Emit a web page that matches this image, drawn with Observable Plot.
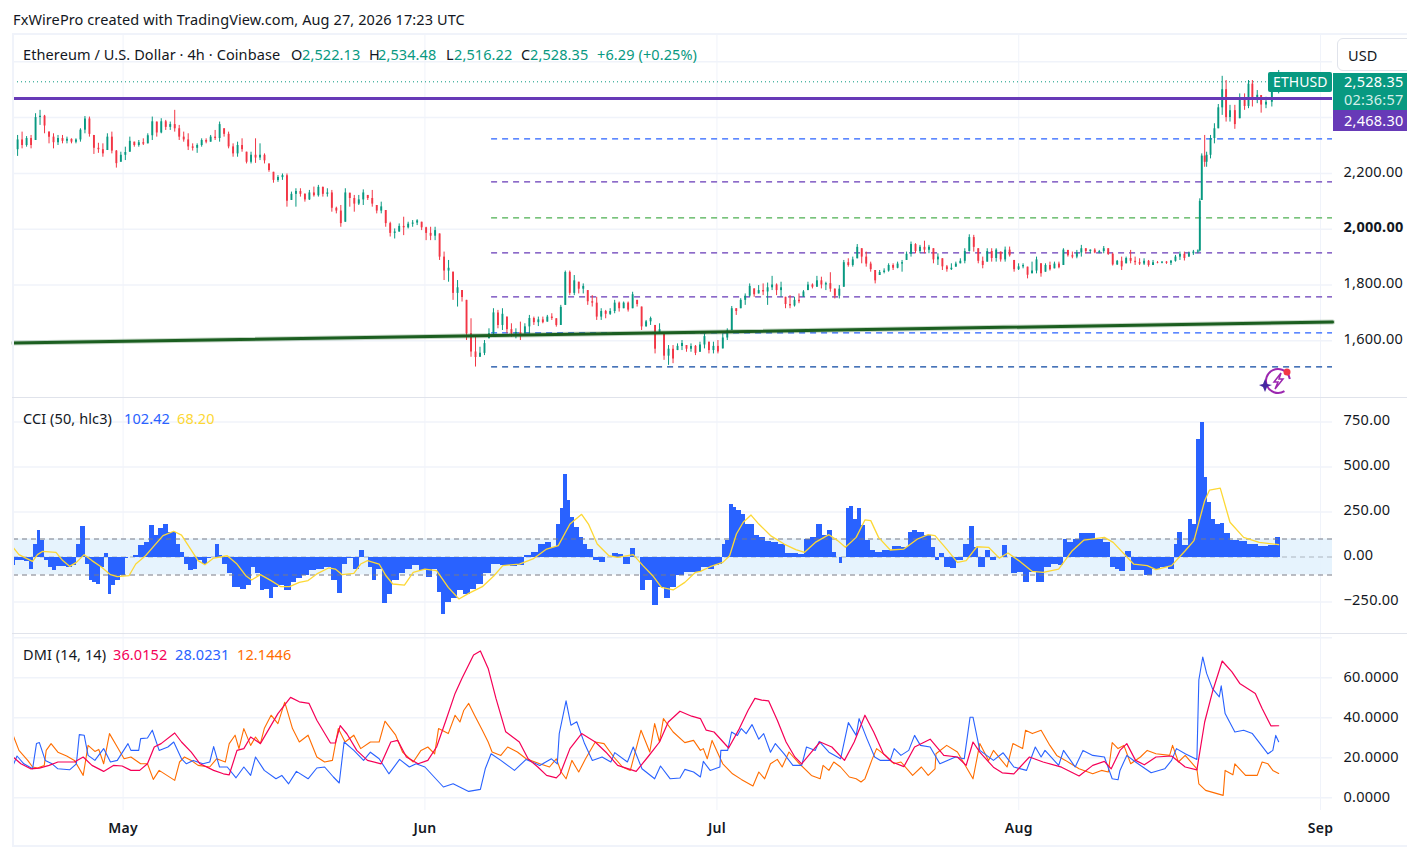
<!DOCTYPE html>
<html>
<head>
<meta charset="utf-8">
<script src="https://cdn.jsdelivr.net/npm/d3@7"></script>
<script src="https://cdn.jsdelivr.net/npm/@observablehq/plot@0.6"></script>
<style>
html,body{margin:0;padding:0;background:#fff;overflow:hidden}
#stage{position:relative;width:1407px;height:851px;overflow:hidden;font-family:"Noto Sans",sans-serif;color:#131722}
#stage svg.plot,#stage>svg{position:absolute;left:0;background:transparent}
.t{position:absolute;white-space:nowrap;transform:translateY(-50%);font-size:14.5px;letter-spacing:.1px;line-height:18px}
.b{position:absolute}
</style>
</head>
<body>
<div id="stage"></div>
<script>
// Price candles (first part: Apr 20 to Jul 1)
const highsA=[2294,2336,2348,2332,2336,2414,2426,2408,2348,2342,2336,2336,2330,2324,2324,2360,2404,2402,2336,2308,2306,2342,2348,2282,2276,2294,2330,2312,2318,2324,2342,2402,2384,2396,2390,2384,2426,2372,2348,2342,2306,2306,2324,2324,2336,2354,2384,2360,2348,2306,2312,2324,2276,2276,2324,2306,2270,2234,2204,2192,2198,2198,2133,2145,2145,2127,2139,2151,2157,2151,2145,2139,2079,2085,2145,2129,2121,2121,2141,2121,2139,2085,2097,2067,2025,2001,2019,2043,2025,2031,2034,2025,2007,2007,2007,1983,1918,1888,1846,1816,1780,1745,1679,1613,1577,1601,1643,1715,1709,1715,1685,1661,1643,1667,1661,1691,1685,1685,1685,1691,1697,1679,1727,1850,1850,1834,1810,1804,1780,1762,1756,1715,1709,1715,1745,1739,1739,1739,1774,1745,1721,1673,1685,1655,1661,1625,1583,1583,1589,1601,1583,1589,1583,1595,1625,1595,1595,1601];
const lowsA=[2258,2261,2288,2294,2288,2318,2372,2342,2306,2288,2300,2306,2306,2306,2306,2312,2342,2330,2268,2272,2258,2282,2270,2219,2240,2246,2276,2294,2294,2300,2306,2318,2330,2342,2354,2354,2348,2318,2312,2282,2280,2272,2294,2306,2312,2318,2312,2330,2288,2258,2258,2276,2234,2234,2236,2246,2234,2204,2165,2168,2175,2079,2103,2079,2115,2097,2103,2115,2115,2115,2115,2061,2055,2007,2025,2079,2061,2085,2085,2103,2079,2055,2055,2007,1972,1965,1989,1977,2001,2007,2013,1995,1959,1959,1959,1888,1816,1810,1745,1721,1739,1601,1541,1506,1541,1547,1607,1613,1643,1637,1625,1613,1607,1601,1625,1625,1655,1651,1661,1667,1673,1649,1655,1727,1762,1762,1768,1768,1727,1721,1673,1673,1679,1691,1697,1703,1715,1703,1715,1721,1637,1649,1655,1553,1625,1530,1512,1518,1565,1565,1559,1559,1547,1559,1571,1553,1553,1553];
const closesA=[2285,2320,2300,2325,2300,2400,2405,2370,2330,2310,2325,2315,2322,2312,2320,2355,2395,2340,2290,2285,2270,2330,2280,2235,2265,2275,2315,2300,2310,2305,2335,2385,2345,2385,2365,2375,2360,2330,2320,2295,2290,2300,2318,2312,2330,2325,2375,2340,2295,2270,2300,2285,2240,2265,2255,2265,2245,2210,2175,2185,2192,2100,2125,2135,2125,2105,2130,2120,2150,2125,2130,2075,2065,2020,2130,2110,2090,2105,2130,2110,2090,2065,2080,2020,1985,1990,2010,2005,2018,2022,2030,2005,1985,1975,1995,1900,1850,1860,1770,1790,1755,1625,1560,1540,1555,1590,1625,1700,1655,1695,1640,1625,1630,1615,1650,1680,1665,1675,1665,1685,1680,1655,1720,1845,1770,1815,1785,1795,1740,1735,1685,1705,1695,1705,1735,1715,1735,1710,1765,1730,1650,1668,1680,1570,1640,1545,1570,1535,1580,1590,1570,1580,1555,1585,1615,1565,1580,1560];
// Price candles (second part: Jul 1 to the jump of Aug 18)
const highsB=[1625,1643,1723,1715,1751,1768,1804,1786,1798,1804,1807,1831,1804,1810,1756,1762,1756,1768,1780,1810,1804,1831,1828,1810,1844,1786,1798,1888,1894,1900,1945,1930,1918,1882,1852,1852,1858,1876,1876,1882,1888,1918,1954,1948,1942,1957,1942,1930,1912,1894,1870,1876,1882,1894,1930,1980,1978,1930,1900,1930,1930,1930,1918,1936,1936,1888,1876,1876,1864,1882,1900,1876,1876,1882,1882,1882,1930,1924,1918,1924,1942,1930,1926,1930,1924,1938,1930,1914,1888,1900,1900,1924,1900,1894,1894,1888,1888,1884,1884,1884,1888,1906,1918,1918,1918,1924,1926];
const lowsB=[1571,1601,1637,1691,1715,1727,1756,1756,1768,1762,1727,1780,1762,1756,1715,1715,1721,1733,1756,1780,1786,1792,1786,1780,1774,1750,1750,1792,1864,1864,1894,1876,1864,1846,1804,1834,1840,1846,1852,1858,1846,1888,1900,1912,1912,1912,1912,1876,1870,1852,1846,1852,1864,1876,1876,1918,1918,1876,1858,1882,1882,1882,1882,1882,1900,1846,1852,1858,1822,1840,1840,1828,1846,1850,1858,1858,1870,1900,1894,1894,1900,1912,1912,1912,1912,1912,1906,1868,1870,1852,1876,1876,1870,1870,1870,1864,1870,1876,1876,1874,1870,1882,1888,1886,1900,1906,1912];
const closesB=[1610,1635,1715,1705,1745,1760,1795,1765,1780,1775,1790,1800,1780,1790,1730,1725,1745,1740,1775,1800,1792,1815,1800,1805,1785,1760,1785,1880,1870,1890,1935,1900,1875,1855,1815,1845,1850,1870,1860,1875,1880,1910,1945,1920,1935,1925,1935,1890,1900,1865,1855,1860,1875,1885,1920,1970,1935,1885,1870,1920,1895,1925,1890,1925,1905,1855,1865,1870,1835,1850,1890,1840,1870,1855,1875,1862,1925,1905,1900,1915,1930,1920,1925,1915,1920,1930,1910,1872,1885,1865,1895,1885,1880,1875,1885,1870,1880,1878,1882,1878,1885,1900,1910,1895,1912,1918,1922];
// Price candles (last part: from the jump to Aug 27), each with its own day from May 1
const highsC=[2109,2270,2336,2276,2336,2378,2447,2548,2533,2444,2444,2485,2485,2533,2533,2497,2479,2473,2497,2569];
const lowsC=[1918,2103,2222,2222,2252,2306,2360,2408,2384,2384,2358,2396,2426,2432,2438,2450,2416,2432,2438,2485];
const closesC=[2100,2262,2240,2265,2325,2360,2435,2500,2400,2425,2375,2470,2440,2520,2470,2480,2445,2455,2490,2528.35];
const daysC=[110.6,110.8,111.1,111.3,111.7,112.1,112.5,112.9,113.3,113.7,114.2,114.7,115.2,115.6,116,116.5,116.9,117.4,118,118.7];
const firstOpen=2265;

// Horizontal levels and trend line
const lastClose=2528.35, purpleLevel=2468.30;
const levelPrices=[2324,2169.9,2040.9,1915.4,1757.7,1628.7,1506.8];
const levelColors=["#2962ff","#673ab7","#4caf50","#673ab7","#673ab7","#2962ff","#0d47a1"];
const levelStartDay=37.85;
const trendDays=[-11.26,124.23], trendPrices=[1592,1667];

// CCI histogram (days counted from May 1)
const cciDays=[-11.3,-10.8,-10.3,-9.9,-9.4,-9,-8.6,-8.3,-7.9,-7.5,-7,-6.6,-6.1,-5.5,-5,-4.6,-4.1,-3.7,-3.3,-2.9,-2.5,-2.1,-1.7,-1.4,-1,-.5,0,.4,.8,1.3,1.8,2.5,3,3.4,3.9,4.4,4.9,5.3,5.7,6.1,6.5,7,7.4,7.9,8.4,8.9,9.3,9.7,10,10.5,11,11.4,11.8,12.4,13,13.4,13.9,14.3,14.8,15.2,15.7,16.3,16.9,17.6,18.1,18.8,19.5,20.2,21.1,21.7,22.3,22.8,23.3,24,24.5,25,25.5,25.8,26.3,26.9,27.4,28,28.7,29.4,30.1,30.8,31.5,32.1,32.5,32.9,33.4,34,34.6,35.3,36,36.7,37.4,38.3,39.3,40.2,40.9,41.6,42.3,43,43.8,44.3,44.8,45.1,45.4,45.8,46.1,46.6,47.1,47.5,48,48.6,49.2,49.9,50.6,51.1,51.8,52.4,52.9,53.3,54,54.7,55.3,55.9,56.5,57.2,58.1,59.1,59.8,60.4,61,61.5,61.7,62.1,62.5,62.8,63.3,63.7,64.2,64.7,65.1,65.6,66.3,67,67.7,68.4,69.1,69.6,70.3,70.9,71.6,72.1,72.6,73.1,73.5,73.7,74.1,74.5,74.8,75.3,75.6,76.1,76.5,77,77.6,78.5,79.5,80.4,80.9,81.3,82,82.7,83.3,83.6,84.1,84.6,85.3,86,86.6,87.2,87.7,88.1,88.4,88.8,89.4,90,90.6,91,91.5,92.2,92.8,93.4,94.3,95,95.7,96.4,96.7,97.3,97.9,98.5,99.4,100.3,101.2,101.7,102.1,102.6,103.3,103.8,104.5,105.3,106.1,107,107.8,108.1,108.6,109.1,109.7,110.1,110.5,110.9,111.2,111.6,112,112.5,112.9,113.4,114.2,115.1,116,117.2,118.1,118.7];
const cciValues=[-48,-20,-17,-24,-67,72,146,91,-20,-57,-76,-54,-52,-61,-48,72,169,-39,-128,-141,-150,-57,17,-209,-159,-131,-104,-11,-2,7,63,81,174,119,156,180,137,137,72,26,-39,-76,-67,-20,-39,-11,-2,69,7,-39,-94,-169,-169,-178,-159,-57,-94,-187,-178,-228,-169,-159,-187,-141,-122,-104,-76,-67,-57,-131,-202,-39,-11,-67,35,-2,-57,-131,-67,-261,-206,-131,-94,-67,-48,-76,-113,-67,-196,-317,-252,-233,-187,-209,-178,-150,-94,-39,-48,-54,-48,7,26,72,81,54,183,272,457,313,220,165,109,72,44,-20,-33,-2,17,13,-39,50,-2,-187,-131,-267,-169,-228,-169,-104,-85,-85,-57,-72,-48,-39,72,91,291,276,261,235,183,183,119,109,87,81,72,20,20,13,100,106,183,119,146,26,-2,-35,-2,272,280,211,267,174,91,35,26,35,57,54,137,150,137,119,54,-20,17,-57,-63,-20,72,169,54,-57,-61,35,-20,-2,63,-2,-94,-85,-141,-85,-141,-57,-39,-48,100,81,100,133,128,100,81,-57,-67,-80,31,-76,-76,-102,-67,-57,-67,72,137,63,211,183,652,748,443,304,211,183,187,128,91,87,72,59,63,106];
// CCI smoothing line
const signalDays=[-11.3,-10.7,-10,-9.3,-8.8,-8.3,-6.9,-6.2,-5.5,-4.8,-4,-3.2,-2.2,-1.3,-.6,.6,1.3,2.3,3.2,4.1,5.2,6,6.7,7.7,8.4,9.3,10.7,11.7,12.6,13.2,14.1,15.2,16.2,17.1,18.1,19,19.9,21.1,21.8,22.5,23.7,24.4,25.1,26.3,27,27.7,28.9,29.8,31,32.2,33.4,34.5,35.5,36.9,38.1,39,40.7,42.1,43.5,44.7,45.9,47.1,47.8,48.7,49.9,50.8,52.4,53.4,54.4,55.3,56.5,57.7,58.8,59.3,60.3,61.6,62.3,63,63.7,64.5,65.3,66.5,67.9,69.1,70,71.1,72.5,73.4,74.2,75.3,76.2,76.8,77.6,78.8,80.2,81.6,82.7,83.4,84.6,85.7,86.6,87.7,88.9,90,90.9,92,93.4,94.5,96.1,97.5,98.7,100.8,101.7,103.8,105.2,106.1,107.7,109.1,110,111.1,111.6,112.7,113.7,115.1,116.7,118.7];
const signalValues=[54,13,-6,-24,13,31,26,-20,-52,-30,13,-20,-57,-98,-109,-104,-39,7,63,119,143,122,63,-20,-43,-6,7,-39,-104,-128,-98,-131,-165,-165,-141,-131,-94,-61,-67,-98,-91,-39,-20,-39,-104,-150,-156,-85,-67,-76,-169,-233,-202,-165,-104,-48,-39,-11,44,63,183,237,183,72,7,-2,13,-48,-104,-169,-183,-141,-85,-80,-54,-30,7,128,193,233,183,119,72,41,26,81,124,91,54,109,206,202,109,39,44,100,124,119,44,-30,-20,57,54,-6,22,-20,-80,-85,-67,35,94,109,81,-39,-48,-70,-48,35,91,313,372,383,193,109,81,68.2];

// DMI lines
const adxDays=[-11.3,-10.5,-9.5,-8.6,-7.6,-6.7,-5,-4.1,-3.2,-2,-1,-.1,.8,1.7,2.5,3.2,3.9,5.3,6,7,7.9,9.3,10.3,10.9,11.7,12.4,13.1,14.1,15,15.9,17.2,18.1,19.1,19.9,21.3,21.8,22.3,23,24,25.1,26.5,27.5,28.2,29.1,30.3,31.3,32.2,33.1,34.1,34.8,36,36.7,37.5,38.3,39.3,40.7,41.6,42.6,43.5,44.5,44.9,45.9,47.1,48.5,49.6,50.8,52.7,53.9,55.1,56,57.2,58.4,59.3,59.9,60.7,62.2,63.3,64.2,64.9,65.6,66.3,67.2,68.1,69,69.7,70.7,71.6,72.8,74.1,75.1,76.2,77.1,78.1,79,80.2,81.3,82.9,84.3,85.7,86.6,87.3,88,89.4,90.3,91.5,93.1,94.5,96.4,98.2,99.6,100.8,101.5,102.4,103.1,104,104.9,106.1,107.7,109.1,110.3,111.1,111.9,112.9,113.9,114.7,116.3,117,117.9,118.7];
const adxValues=[20.4,17,14.5,14.8,16.2,17.9,17.9,20.4,16.2,13.2,16.2,15.9,13.7,13.7,17,25.4,27.1,32.4,27.9,22.8,17,13.7,12,11.5,23.7,24.6,30.4,27.1,34.6,42.1,50.2,48,47.2,38.8,27.4,27.4,36.1,31.9,23.7,18.7,17,27.9,28.7,20.4,17,18.7,25.4,37.9,52.2,59.7,71.4,73.4,64.7,49.7,33,27.9,19.5,15.4,11.2,10,12,24.6,32.1,27.9,22.8,16.2,13.2,20.4,27.9,37.9,43.3,40.8,39.6,33.8,32.9,24.9,34.6,43.8,49.7,48.8,48.5,38.8,27.9,20.4,17,22.8,27.9,25.4,18.7,27.9,41.3,32.9,22,17.9,15.6,25.4,29.3,21.2,20.4,16.2,27.9,22.8,15.3,12.5,12,20.4,17.9,15.3,10.9,16.2,18.2,14.5,23.7,27.1,18.7,16.5,20.4,20.9,15.4,14,37.9,53,68.4,63,57.2,52.2,44.6,36,36.0152];
const plusDays=[-11.3,-10.9,-10.2,-9.3,-8.9,-8.6,-8,-7.3,-6.7,-5.5,-4.8,-4.5,-4,-3.6,-2.9,-2,-1.3,-.6,.5,.8,1.6,1.8,2.5,3,3.7,4.6,5.2,6,6.5,7.2,8.2,8.9,9.3,9.9,10.7,11.6,12.4,13.1,13.6,14.5,15.7,16.3,17,17.8,19,19.9,20.7,21.6,22.2,22.7,23.7,24.7,25.4,26.3,27.3,28.4,29.4,30.1,31,32.9,33.9,35.5,36.7,37.2,37.8,38.8,40.2,41.4,42.8,44,44.6,44.8,45.5,46,46.6,47.4,48.2,49.2,50.1,50.5,51.8,52.4,53.3,54.6,55.2,56.2,57.2,57.7,58.6,59.3,59.6,60.3,61.3,61.4,62.1,62.5,63.1,63.5,64,64.6,65.3,65.8,66.5,67,67.9,68.8,69.7,70.2,71.1,71.5,72.5,73.7,74.5,75.3,75.6,76.4,77.2,77.8,78.8,79.2,79.9,80.7,81.3,81.9,82.9,83.9,85.5,86.4,87,87.3,88,89.4,90.4,91.5,92.8,93.7,94.3,94.7,96.1,96.6,97.8,98.6,99.6,100.8,101.6,102.2,102.4,103.1,104,105.6,107,107.7,108.2,109.1,110.3,110.5,110.9,111.3,111.9,112.6,112.8,113.2,114.2,115.1,116,117.6,118.1,118.4,118.7];
const plusValues=[16.2,20.9,17,14.5,27.1,27.6,18.7,17,14.5,14,17,31.6,31.3,21.2,18.7,24.6,17.9,18.7,27.1,23.7,23.7,29.6,29.9,33.8,23.7,25.4,27.9,19.5,17,18.7,17,17.9,25.6,15.4,15.4,10,15.4,11.2,20.4,13.7,9.5,11.2,7,13.2,9.5,14.9,15.4,10.4,7.4,27.9,23.7,18.7,22.8,19.5,12,19.2,15.4,17,15.4,5.4,7,3.2,4.2,14.5,22,18.7,13.7,19.2,16.2,19.5,17,32.1,48.5,36.3,38,27.1,18.7,20.4,17.9,22.6,17.9,25.4,14.5,9.5,15.9,9.5,9.9,14.2,12.9,10.4,18.2,13.7,15.4,23.7,23.7,32.9,31.2,34.6,32.1,36.6,29.3,32.1,22.8,27.1,22,16.2,16.2,25.4,23.7,28.2,22.8,19.5,37.6,31.2,39.6,29.6,20.4,18.7,18.7,24.6,21.2,23.7,31.2,26.2,25.4,17,20.4,19.5,40.3,40.3,23.7,18.7,22.5,15.4,13.7,25.4,20.4,23.7,16.2,23.7,15.4,23.7,21.2,20.4,9.5,9,13.7,21.2,17.9,12.5,14.5,18.7,24.6,22,19.2,58.9,70.4,62.2,54.6,50.5,56,42.1,32.9,33.8,32.1,22,23.7,31.2,28.0231];
const minusDays=[-11.3,-10.7,-9.8,-9.3,-8.8,-8.1,-7.9,-7.4,-6.7,-5.8,-5,-4.1,-3.6,-2.9,-2.5,-2,-1.4,-.6,.1,.8,1.8,2.5,3.1,3.7,4.5,5.3,5.8,6.3,7,7.7,8.9,9.6,10.5,10.9,11.5,11.9,12.4,13.1,13.6,14.1,14.5,15.2,15.9,16.6,17.4,18.1,19,19.9,20.7,21.5,22.1,22.8,23.7,24.4,25.4,26.3,26.9,28,28.7,29.8,30.6,31.3,32,32.4,33.4,34.1,34.6,35,35.5,36.1,36.9,37.5,37.9,38.8,39.5,40.5,41.4,42.8,43.8,44.5,45,45.5,46.1,46.8,47.5,48.5,49.4,50.4,51.3,52.1,53.2,54.1,54.6,55.1,55.5,56.5,57.7,58.6,59.3,59.6,60,60.5,61.2,61.6,62.6,63.5,64.7,65.3,65.9,66.5,67.2,67.7,68.4,69.3,70.7,71.6,71.9,72.5,73,73.7,74.6,75.3,75.8,76.2,76.9,77.4,78.3,79.2,79.9,81.1,82,82.7,83.4,83.5,84.6,85.7,86.6,87.3,87.7,88,88.9,89.4,90.8,91.4,92.4,92.7,93.4,94.3,95.2,95.9,96.8,98.2,99.6,100.5,101.2,101.6,102.2,102.8,103.5,104.5,105.2,106.1,107.5,107.8,108.4,109.1,110.3,110.5,111.2,113,113.2,114,114.2,115.3,116.5,117,117.6,118.1,118.7];
const minusValues=[31.3,23.7,18.7,15.4,14.9,16.2,23.7,27.1,22.8,20.9,18.7,11.2,26.2,23.2,24.2,17,32.1,25.4,19.5,20.4,17,17,9.2,13.7,11.2,8.7,17.9,20.4,18.7,16.2,15.4,19.5,17.9,27.1,31.3,24.6,34.6,26.2,30.4,27.1,34.6,41.3,37.1,47.8,34.6,27.9,31.3,20.4,17.9,18.7,34.6,27.9,31.3,24.6,27.9,27.9,38.3,31.3,22.9,17.9,23.7,25.4,22,34.6,32.1,41.3,37.9,43.8,47.2,41.3,33.8,27.9,22.9,21.2,25.4,22.9,19.5,17,15.4,19.5,12.9,9.5,18.7,12.9,19.5,27.9,27.1,20.4,15.4,13.7,33.8,22.9,37.1,27.9,39.6,32.9,27.6,28.7,23.7,24.6,19.5,28.7,21.2,17,12,9.2,5.9,12.9,9.5,17,19.2,15.4,22.9,17.9,11.2,9.5,16.2,13.7,17.9,15.4,10.4,9.5,7.9,9.5,18.7,24.6,21.2,17,17.9,11.2,15.4,11.2,14.5,22,26.2,22.9,15.4,9.5,19.5,27.1,18.7,23.7,15.4,27.1,24.6,33.8,32.1,33.8,26.2,21.2,18.7,14.5,12,13.7,12.9,27.6,24.6,26.2,17,20.4,23.7,22,21.2,26.2,17.9,21.2,14.5,7,3.7,1.2,13.7,11.5,17,11.2,11.2,17.9,17,13.7,12.1446];

// Axis ticks
const monthTicks=[[2026,4,1],[2026,5,1],[2026,6,1],[2026,7,1],[2026,8,1]];
const priceGrid=[1600,1800,2000,2200,2400,2600];
const priceLabels=[1600,1800,2200];
const priceBold=[2000];
const cciTicks=[-250,0,250,500,750];
const dmiTicks=[0,20,40,60];

// ---------- build ----------
const UP="#089981",DOWN="#f23645",GRID="#f0f3fa",INK="#131722",FONT='"Noto Sans",sans-serif';
const base=Date.UTC(2026,4,1);
const day=d=>new Date(base+d*864e5);
const months=monthTicks.map(([y,m,d])=>new Date(Date.UTC(y,m,d)));
const xDomain=[day(-11.26),day(124.23)];
const W=1407,ML=13,MR=75;
const zip=(days,vals)=>days.map((d,i)=>({t:day(d),v:vals[i]}));

function candleRows(h,l,c,dayOf,prev){
  return h.map((_,i)=>{
    const open=Math.max(l[i],Math.min(h[i],i?c[i-1]:prev));
    return {t:day(dayOf(i)),high:h[i],low:l[i],close:c[i],open,up:c[i]>=open};
  });
}
const even=(d0,d1,n)=>i=>d0+(d1-d0)*i/(n-1);
const candles=[
  ...candleRows(highsA,lowsA,closesA,even(-11.3,61.1,highsA.length),firstOpen),
  ...candleRows(highsB,lowsB,closesB,even(61.6,110.4,highsB.length),closesA[closesA.length-1]),
  ...candleRows(highsC,lowsC,closesC,i=>daysC[i],closesB[closesB.length-1])
];
const ups=candles.filter(d=>d.up),downs=candles.filter(d=>!d.up);
const bars=cciDays.map((d,i)=>({
  x1:day(i?(cciDays[i-1]+d)/2:d+.04),
  x2:day(i<cciDays.length-1?(d+cciDays[i+1])/2:d+.15),
  v:cciValues[i]}));

const vGrid=()=>Plot.ruleX(months,{stroke:GRID,strokeWidth:1});
const hGrid=t=>Plot.ruleY(t,{stroke:GRID,strokeWidth:1.5});
const stage=document.getElementById("stage");
function add(chart,top){chart.style.position="absolute";chart.style.left="0";chart.style.top=top+"px";chart.style.maxWidth="none";stage.appendChild(chart);}
const axisStyle={anchor:"right",label:null,tickSize:0,tickPadding:11,fontSize:14.5,fill:INK,dy:-1.5,fontFamily:FONT};
const plotStyle={background:"transparent",fontFamily:FONT,letterSpacing:"0.25px"};

// Price pane: y 35..397
add(Plot.plot({width:W,height:362,marginLeft:ML,marginRight:MR,marginTop:0,marginBottom:0,
  style:plotStyle,
  x:{type:"utc",domain:xDomain,axis:null},
  y:{domain:[1396.8,2694.3],axis:null},
  marks:[
    vGrid(),hGrid(priceGrid),
    ...levelPrices.map((p,i)=>Plot.ruleY([p],{x1:()=>day(levelStartDay),x2:()=>xDomain[1],stroke:levelColors[i],strokeWidth:1.2,strokeDasharray:"6 5"})),
    Plot.ruleY([lastClose],{stroke:UP,strokeWidth:1,strokeDasharray:"1 3"}),
    Plot.ruleX(ups,{x:"t",y1:"low",y2:"high",stroke:UP,strokeWidth:1}),
    Plot.ruleX(downs,{x:"t",y1:"low",y2:"high",stroke:DOWN,strokeWidth:1}),
    Plot.ruleX(ups,{x:"t",y1:"open",y2:"close",stroke:UP,strokeWidth:1.9}),
    Plot.ruleX(downs,{x:"t",y1:"open",y2:"close",stroke:DOWN,strokeWidth:1.9}),
    Plot.ruleY([purpleLevel],{stroke:"#673ab7",strokeWidth:3}),
    Plot.line(zip(trendDays,trendPrices),{x:"t",y:"v",stroke:"#1b5e20",strokeWidth:5,strokeOpacity:.25}),
    Plot.line(zip(trendDays,trendPrices),{x:"t",y:"v",stroke:"#1b5e20",strokeWidth:3}),
    Plot.axisY(priceLabels,{...axisStyle,tickFormat:d3.format(",.2f")}),
    Plot.axisY(priceBold,{...axisStyle,fontWeight:700,tickFormat:d3.format(",.2f")})
  ]}),35);

// CCI pane: y 398..633
const fmtMinus=f=>d=>f(d).replace("-","\u2212");
add(Plot.plot({width:W,height:235,marginLeft:ML,marginRight:MR,marginTop:0,marginBottom:0,
  style:plotStyle,
  x:{type:"utc",domain:xDomain,axis:null},
  y:{domain:[-425,880.6],axis:null},
  marks:[
    vGrid(),hGrid(cciTicks),
    Plot.rect([0],{x1:()=>xDomain[0],x2:()=>xDomain[1],y1:()=>-100,y2:()=>100,fill:"#e3f2fd",fillOpacity:.9}),
    Plot.ruleY([0],{stroke:"#787b86",strokeOpacity:.5,strokeWidth:1,strokeDasharray:"5 4"}),
    Plot.rectY(bars,{x1:"x1",x2:"x2",y1:()=>0,y2:"v",fill:"#2962ff",shapeRendering:"crispEdges"}),
    Plot.ruleY([100,-100],{stroke:"#787b86",strokeWidth:1,strokeDasharray:"5 4"}),
    Plot.line(zip(signalDays,signalValues),{x:"t",y:"v",stroke:"#fdd835",strokeWidth:1.3}),
    Plot.axisY(cciTicks,{...axisStyle,tickFormat:fmtMinus(d3.format(".2f"))})
  ]}),398);

// DMI pane: y 634..810, time axis below
add(Plot.plot({width:W,height:211,marginLeft:ML,marginRight:MR,marginTop:0,marginBottom:35,
  style:plotStyle,
  x:{type:"utc",domain:xDomain,axis:null},
  y:{domain:[-6.35,81.65],axis:null},
  marks:[
    vGrid(),hGrid([...dmiTicks,80]),
    Plot.line(zip(minusDays,minusValues),{x:"t",y:"v",stroke:"#ff6d00",strokeWidth:1.1}),
    Plot.line(zip(plusDays,plusValues),{x:"t",y:"v",stroke:"#2962ff",strokeWidth:1.1}),
    Plot.line(zip(adxDays,adxValues),{x:"t",y:"v",stroke:"#f50057",strokeWidth:1.2}),
    Plot.axisY(dmiTicks,{...axisStyle,dy:-.5,tickFormat:d3.format(".4f")}),
    Plot.axisX(months,{anchor:"bottom",label:null,tickSize:0,tickPadding:13,fontSize:14,fontWeight:600,fill:INK,fontFamily:FONT,tickFormat:d3.utcFormat("%b")})
  ]}),634);

// Frame, panes' separators and price badges
function box(x,y,w,h,css){const e=document.createElement("div");e.className="b";e.style.cssText=`left:${x}px;top:${y}px;width:${w}px;height:${h}px;${css}`;stage.appendChild(e);return e;}
function text(s,x,y,color,extra){const e=document.createElement("div");e.className="t";e.textContent=s;e.style.left=x+"px";e.style.top=y+"px";e.style.color=color||INK;if(extra)e.style.cssText+=extra;stage.appendChild(e);return e;}
box(12,33,1395,2,"background:#f0f3fa");
box(12,33,1.5,813,"background:#f0f3fa");
box(12,396.5,1395,1.5,"background:#e0e3eb");
box(12,632.5,1395,1.5,"background:#e0e3eb");
box(12,844.5,1395,2,"background:#f0f3fa");

box(1333,73,74,37,"background:#089981");
box(1333,110,74,21,"background:#673ab7");
text("2,528.35",1344,80.5,"#fff","letter-spacing:.25px");
text("02:36:57",1344,99,"#d4efe9","letter-spacing:.25px");
text("2,468.30",1344,119.5,"#fff","letter-spacing:.25px");
box(1268,72,64,20,"background:#089981;border-radius:2px");
text("ETHUSD",1273,82,"#fff","font-size:14px");
box(1337,38,80,33,"background:#fff;border:1px solid #e0e3eb;border-radius:6px;box-sizing:border-box");
text("USD",1348,54.5,INK);

// Header and legends
text("FxWirePro created with TradingView.com, Aug 27, 2026 17:23 UTC",13,19,INK);
text("Ethereum / U.S. Dollar · 4h · Coinbase",23,54,INK);
[["O",291,INK],["2,522.13",302,UP],["H",369,INK],["2,534.48",378,UP],["L",446,INK],["2,516.22",454,UP],["C",521,INK],["2,528.35",530,UP],["+6.29 (+0.25%)",597,UP]].forEach(([s,x,c])=>text(s,x,54,c));
text("CCI (50, hlc3)",23,418,INK);text("102.42",124,418,"#2962ff");text("68.20",177,418,"#fdd835");
text("DMI (14, 14)",23,654,INK);text("36.0152",113,654,"#f50057");text("28.0231",175,654,"#2962ff");text("12.1446",237,654,"#ff6d00");

// Small badge in the lower right of the price pane
const ns="http://www.w3.org/2000/svg";
const badge=document.createElementNS(ns,"svg");
badge.setAttribute("width","40");badge.setAttribute("height","34");
badge.style.cssText="position:absolute;left:1256px;top:364px";
badge.innerHTML='<circle cx="22" cy="17" r="12" fill="none" stroke="#9c27b0" stroke-width="2" stroke-dasharray="50 14" transform="rotate(110 22 17)"/><path d="M25 9 L18 18 L22 18 L19 25 L27 15 L23 15 Z" fill="none" stroke="#9c27b0" stroke-width="1.5"/><path d="M9 15 L11 20 L16 21 L11 23 L9 28 L7 23 L3 21 L7 20 Z" fill="#4527a0"/><circle cx="31" cy="8" r="3.5" fill="#f23645"/>';
stage.appendChild(badge);
</script>
</body>
</html>
